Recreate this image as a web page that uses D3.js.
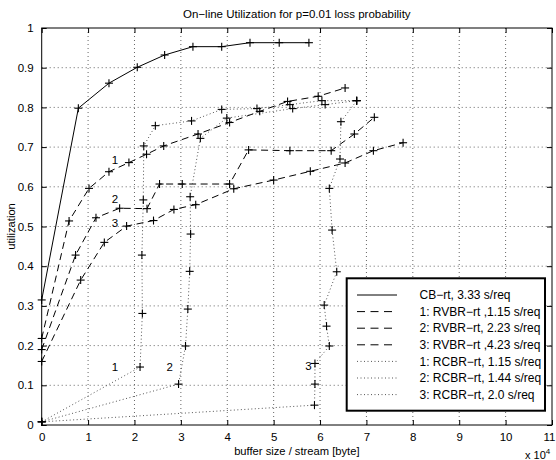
<!DOCTYPE html>
<html><head><meta charset="utf-8">
<script src="https://cdn.jsdelivr.net/npm/d3@7"></script>
<style>
body{margin:0;background:#fff;}
svg text{font-family:"Liberation Sans",Arial,Helvetica,sans-serif;fill:#000;}
</style></head>
<body><svg id="c" width="556" height="460"></svg>
<script>
const title = "On\u2212line Utilization for p=0.01 loss probability";
const xLabel = "buffer size / stream [byte]";
const yLabel = "utilization";
const xTicks = [0,1,2,3,4,5,6,7,8,9,10,11];
const yTicks = [0,0.1,0.2,0.3,0.4,0.5,0.6,0.7,0.8,0.9,1];
const yTickLabels = ["0","0.1","0.2","0.3","0.4","0.5","0.6","0.7","0.8","0.9","1"];

const cbX = [0,0.79,1.45,2.06,2.65,3.26,3.88,4.49,5.12,5.76];
const cbY = [0.315,0.798,0.861,0.901,0.932,0.953,0.953,0.963,0.963,0.963];

const rvbr1X = [0,0.59,1.02,1.45,1.88,2.26,2.63,3.37,4.05,4.70,5.30,5.96,6.54];
const rvbr1Y = [0.218,0.514,0.596,0.638,0.661,0.682,0.703,0.733,0.762,0.790,0.815,0.828,0.849];

const rvbr2X = [0,0.73,1.17,1.68,2.27,2.54,3.03,4.05,4.46,5.35,6.24,6.74,7.17];
const rvbr2Y = [0.19,0.428,0.522,0.546,0.545,0.607,0.607,0.607,0.693,0.691,0.691,0.733,0.775];

const rvbr3X = [0,0.84,1.35,1.83,2.41,2.85,3.32,4.14,5.0,5.79,6.54,7.15,7.79];
const rvbr3Y = [0.16,0.365,0.46,0.501,0.515,0.543,0.555,0.595,0.617,0.639,0.660,0.691,0.711];

const rcbr1X = [0,2.12,2.17,2.16,2.19,2.20,2.45,3.23,3.88,4.64,5.35,6.04,6.79];
const rcbr1Y = [0.008,0.146,0.281,0.428,0.567,0.703,0.754,0.766,0.795,0.797,0.807,0.817,0.817];

const rcbr2X = [0,2.95,3.10,3.15,3.19,3.21,3.20,3.42,3.99,5.41,6.11,6.79];
const rcbr2Y = [0.008,0.103,0.199,0.292,0.387,0.481,0.575,0.722,0.773,0.797,0.807,0.817];

const rcbr3X = [0,5.88,5.89,5.89,6.20,6.14,6.09,6.36,6.26,6.20,6.43,6.45,6.79];
const rcbr3Y = [0.008,0.050,0.103,0.155,0.199,0.249,0.302,0.386,0.491,0.596,0.670,0.764,0.817];

const seriesNames = ["CB\u2212rt, 3.33 s/req","1: RVBR\u2212rt ,1.15 s/req","2: RVBR\u2212rt, 2.23 s/req","3: RVBR\u2212rt ,4.23 s/req","1: RCBR\u2212rt, 1.15 s/req","2: RCBR\u2212rt, 1.44 s/req","3: RCBR\u2212rt, 2.0 s/req"];
const seriesStyle = ["solid","dashed","dashed","dashed","dotted","dotted","dotted"];

const annText = ["1","2","3","1","2","3"];
const annX = [1.58,1.58,1.58,1.58,2.76,5.75];
const annY = [0.668,0.569,0.509,0.146,0.146,0.148];

const series = [[cbX,cbY],[rvbr1X,rvbr1Y],[rvbr2X,rvbr2Y],[rvbr3X,rvbr3Y],[rcbr1X,rcbr1Y],[rcbr2X,rcbr2Y],[rcbr3X,rcbr3Y]]
  .map(([xs,ys],i)=>({name:seriesNames[i],style:seriesStyle[i],pts:xs.map((x,j)=>[x,ys[j]])}));

const L=41.7,R=552,T=28,B=425;
const x = d3.scaleLinear().domain([0,11]).range([L,R]);
const y = d3.scaleLinear().domain([0,1]).range([B,T]);
const svg = d3.select("#c");

const dash = {solid:null, dashed:"7,4.5", dotted:"1,2.5"};
const col = {solid:"#000", dashed:"#000", dotted:"#555"};

// grid
const g = svg.append("g");
g.selectAll(".gx").data(xTicks.slice(1,-1)).join("line")
  .attr("x1",d=>x(d)).attr("x2",d=>x(d)).attr("y1",T).attr("y2",B)
  .attr("stroke","#666").attr("stroke-width",1).attr("stroke-dasharray","1,3");
g.selectAll(".gy").data(yTicks.slice(1,-1)).join("line")
  .attr("y1",d=>y(d)).attr("y2",d=>y(d)).attr("x1",L).attr("x2",R)
  .attr("stroke","#666").attr("stroke-width",1).attr("stroke-dasharray","1,3");

// lines
const line = d3.line().x(d=>x(d[0])).y(d=>y(d[1]));
svg.append("g").selectAll("path").data(series).join("path")
  .attr("d",d=>line(d.pts)).attr("fill","none")
  .attr("stroke",d=>col[d.style]).attr("stroke-width",1)
  .attr("stroke-dasharray",d=>dash[d.style]);

// markers
const allPts = series.flatMap(s=>s.pts);
const m = svg.append("g").attr("stroke","#000").attr("stroke-width",1.1);
m.selectAll(".h").data(allPts).join("line")
  .attr("x1",d=>x(d[0])-4).attr("x2",d=>x(d[0])+4).attr("y1",d=>y(d[1])).attr("y2",d=>y(d[1]));
m.selectAll(".v").data(allPts).join("line")
  .attr("x1",d=>x(d[0])).attr("x2",d=>x(d[0])).attr("y1",d=>y(d[1])-4).attr("y2",d=>y(d[1])+4);

// annotations
svg.append("g").selectAll("text").data(annText).join("text")
  .attr("x",(d,i)=>x(annX[i])).attr("y",(d,i)=>y(annY[i])).attr("dy","0.35em")
  .attr("text-anchor","middle").attr("font-size",11.5).text(d=>d);

// axes
const ax = svg.append("g");
ax.append("g").attr("transform",`translate(0,${B})`)
  .call(d3.axisBottom(x).tickValues(xTicks).tickSizeInner(-5).tickSizeOuter(0).tickPadding(8).tickFormat(d3.format("d")))
  .call(s=>{s.select(".domain").remove();s.selectAll("text").attr("font-size",11.5).attr("font-family",null);
    s.selectAll(".tick").filter(d=>d===11).select("text").attr("text-anchor","end").attr("dx",3);});
ax.append("g").attr("transform",`translate(${L},0)`)
  .call(d3.axisLeft(y).tickValues(yTicks).tickSizeInner(-5).tickSizeOuter(0).tickPadding(8).tickFormat((d,i)=>yTickLabels[i]))
  .call(s=>{s.select(".domain").remove();s.selectAll("text").attr("font-size",11.5).attr("font-family",null);});
ax.append("g").attr("transform",`translate(0,${T})`)
  .call(d3.axisTop(x).tickValues(xTicks).tickSizeInner(-5).tickSizeOuter(0).tickFormat(""))
  .call(s=>s.select(".domain").remove());
ax.append("g").attr("transform",`translate(${R},0)`)
  .call(d3.axisRight(y).tickValues(yTicks).tickSizeInner(-5).tickSizeOuter(0).tickFormat(""))
  .call(s=>s.select(".domain").remove());
svg.append("rect").attr("x",L).attr("y",T).attr("width",R-L).attr("height",B-T)
  .attr("fill","none").attr("stroke","#000").attr("stroke-width",1);

// texts
svg.append("text").attr("x",(L+R)/2).attr("y",18).attr("text-anchor","middle").attr("font-size",11.5).text(title);
svg.append("text").attr("x",(L+R)/2).attr("y",455).attr("text-anchor","middle").attr("font-size",11.2).text(xLabel);
svg.append("text").attr("transform",`translate(15,${(T+B)/2}) rotate(-90)`).attr("text-anchor","middle").attr("font-size",11.2).text(yLabel);
const xs = svg.append("text").attr("x",525).attr("y",459).attr("font-size",11);
xs.append("tspan").text("x 10");
xs.append("tspan").attr("dy",-5).attr("font-size",8).text("4");

// legend
const lg = svg.append("g");
const lx0=346.7, ly0=278.3, lw=198.3, lh=132.4;
lg.append("rect").attr("x",lx0).attr("y",ly0).attr("width",lw).attr("height",lh)
  .attr("fill","#fff").attr("stroke","#000").attr("stroke-width",2);
const rows = lg.selectAll("g").data(series).join("g")
  .attr("transform",(d,i)=>`translate(0,${295+i*16.6})`);
rows.append("line").attr("x1",357).attr("x2",397).attr("y1",0).attr("y2",0)
  .attr("stroke",d=>col[d.style]).attr("stroke-width",1)
  .attr("stroke-dasharray",d=>d.style==="dashed"?"8,5.5":dash[d.style]);
rows.append("text").attr("x",419.5).attr("y",0).attr("dy","0.35em").attr("font-size",12).text(d=>d.name);
</script></body></html>
